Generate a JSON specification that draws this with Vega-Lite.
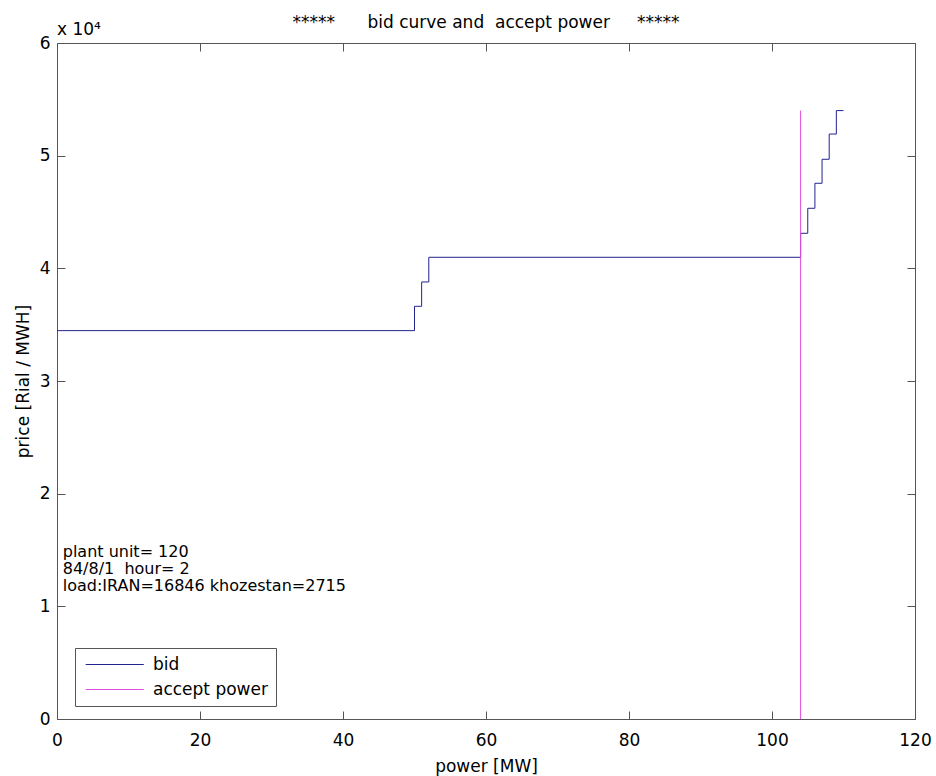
{
  "$schema": "https://vega.github.io/schema/vega-lite/v6.json",
  "width": 858,
  "height": 676,
  "autosize": {"type": "none"},
  "padding": {"left": 57, "top": 43, "right": 21, "bottom": 57},
  "background": "white",
  "config": {
    "font": "DejaVu Sans",
    "view": {"stroke": "#555", "strokeWidth": 1},
    "axis": {
      "domain": false,
      "grid": false,
      "tickColor": "#555",
      "tickWidth": 1,
      "labelFontSize": 17,
      "labelColor": "black",
      "labelFlush": false,
      "labelOverlap": false,
      "titleFontSize": 17,
      "titleFontWeight": "normal",
      "titleColor": "black"
    }
  },
  "title": {
    "text": "*****\u00a0\u00a0\u00a0\u00a0\u00a0\u00a0bid curve and\u00a0\u00a0accept power\u00a0\u00a0\u00a0\u00a0\u00a0*****",
    "fontSize": 17,
    "fontWeight": "normal",
    "anchor": "middle",
    "frame": "group",
    "baseline": "alphabetic",
    "offset": -24,
    "color": "black"
  },
  "datasets": {
    "bid": [
      {"power": 0, "price": 34470, "series": "bid"},
      {"power": 50, "price": 36630, "series": "bid"},
      {"power": 51, "price": 38790, "series": "bid"},
      {"power": 52, "price": 40980, "series": "bid"},
      {"power": 104, "price": 43110, "series": "bid"},
      {"power": 105, "price": 45330, "series": "bid"},
      {"power": 106, "price": 47550, "series": "bid"},
      {"power": 107, "price": 49680, "series": "bid"},
      {"power": 108, "price": 51920, "series": "bid"},
      {"power": 109, "price": 54000, "series": "bid"},
      {"power": 110, "price": 54000, "series": "bid"}
    ],
    "accept": [
      {"power": 104, "price": 0, "series": "accept power"},
      {"power": 104, "price": 54000, "series": "accept power"}
    ],
    "notes": [
      {"note": "plant unit= 120\n84/8/1\u00a0\u00a0hour= 2\nload:IRAN=16846 khozestan=2715"}
    ],
    "exponent": [
      {"note": "x 10\u2074"}
    ]
  },
  "layer": [
    {
      "data": {"name": "bid"},
      "mark": {"type": "line", "interpolate": "step-after", "strokeWidth": 1},
      "encoding": {
        "x": {
          "field": "power", "type": "quantitative",
          "scale": {"domain": [0, 120], "nice": false, "zero": false},
          "axis": {"orient": "bottom", "values": [0, 20, 40, 60, 80, 100, 120], "tickSize": -8, "labelPadding": 21, "title": "power [MW]", "titlePadding": 10}
        },
        "y": {
          "field": "price", "type": "quantitative",
          "scale": {"domain": [0, 60000], "nice": false},
          "axis": {"orient": "left", "values": [0, 10000, 20000, 30000, 40000, 50000, 60000], "labelExpr": "datum.value / 10000", "tickSize": -8, "labelPadding": 15, "title": "price [Rial / MWH]", "titlePadding": 7}
        },
        "color": {
          "field": "series", "type": "nominal",
          "scale": {"domain": ["bid", "accept power"], "range": ["#23238f", "#e04ee0"]},
          "legend": {
            "orient": "none", "legendX": 18, "legendY": 605,
            "title": null,
            "symbolType": "M-1,0H9",
            "symbolSize": 135,
            "symbolStrokeWidth": 1,
            "labelOffset": 53,
            "labelFontSize": 17,
            "labelColor": "black",
            "labelLimit": 300,
            "strokeColor": "#555",
            "fillColor": "white",
            "padding": 8,
            "rowPadding": 7
          }
        }
      }
    },
    {
      "data": {"name": "accept"},
      "mark": {"type": "line", "interpolate": "step-after", "strokeWidth": 1},
      "encoding": {
        "x": {
          "field": "power", "type": "quantitative",
          "axis": {"orient": "top", "values": [0, 20, 40, 60, 80, 100, 120], "tickSize": -8, "labels": false, "title": null}
        },
        "y": {
          "field": "price", "type": "quantitative",
          "axis": {"orient": "right", "values": [0, 10000, 20000, 30000, 40000, 50000, 60000], "tickSize": -8, "labels": false, "title": null}
        },
        "color": {"field": "series", "type": "nominal"}
      }
    },
    {
      "data": {"name": "notes"},
      "mark": {"type": "text", "align": "left", "baseline": "alphabetic", "fontSize": 16, "lineBreak": "\n", "lineHeight": 17, "color": "black"},
      "encoding": {
        "x": {"datum": 0.8, "type": "quantitative", "axis": null},
        "y": {"datum": 14405, "type": "quantitative", "axis": null},
        "text": {"field": "note"}
      }
    },
    {
      "data": {"name": "exponent"},
      "mark": {"type": "text", "align": "left", "baseline": "alphabetic", "fontSize": 17, "dy": -8, "color": "black"},
      "encoding": {
        "x": {"datum": 0, "type": "quantitative", "axis": null},
        "y": {"datum": 60000, "type": "quantitative", "axis": null},
        "text": {"field": "note"}
      }
    }
  ],
  "resolve": {"axis": {"x": "independent", "y": "independent"}}
}
